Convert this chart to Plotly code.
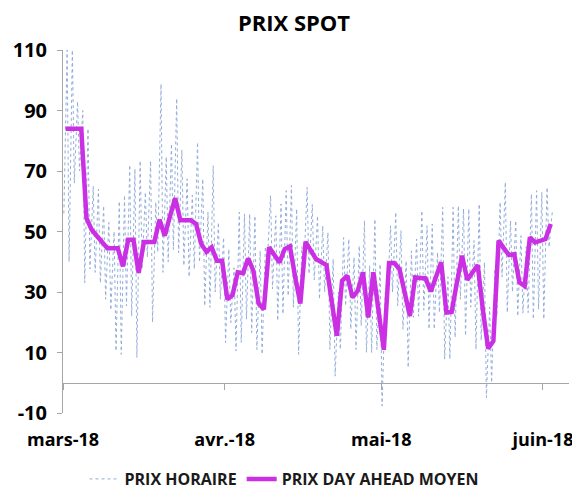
import pandas as pd
import plotly.graph_objects as go

# Day labels (one entry per day, Mar 1 2018 -> Jun 2 2018)
days = pd.date_range("2018-03-01", "2018-06-02", freq="D")

# Daily average day-ahead price (PRIX DAY AHEAD MOYEN), EUR/MWh
daily_avg = [
    # March
    84, 84, 84, 84, 54.4, 50.6, 48.5, 46.5, 44.5, 44.5, 44.5, 38.5, 47.3, 47.3, 36.3, 46.5,
    46.5, 46.5, 53.9, 48.6, 55, 61, 53.7, 53.7, 53.7, 52.5, 45.9, 43.3, 44.8, 40.3, 40.3,
    # April
    27.6, 29, 36.5, 36.2, 41.1, 37, 26.2, 24.3, 44.8, 42.4, 39.8, 44.2, 45.1, 35, 26.2,
    46.6, 43.5, 40.9, 39.9, 38.9, 27, 15.5, 33.7, 35.4, 28.2, 30.4, 36.5, 21.6, 36.5, 24,
    # May
    10.9, 39.6, 39.6, 37.6, 30, 22.1, 34.8, 34.6, 34.5, 30.2, 35, 39.8, 23.2, 23.4, 33,
    42, 34, 36.5, 38.9, 24, 11.3, 13.8, 47, 44.5, 42.2, 42.5, 33.2, 32, 48.1, 46.4, 46.9,
    # June
    47.5, 52.5,
]

# Hourly price range per day (PRIX HORAIRE): daily low and daily high
hourly_min = [
    56, 40, 66, 70, 33, 37.6, 36.5, 33, 27.6, 24, 10.5, 9.4, 25.4, 22, 8.3, 37.6,
    41.5, 20, 43.2, 36.5, 40, 44, 43, 38.7, 35, 37.6, 39.8, 25.4, 24.9, 30, 27.6,
    13.3, 19.9, 10.5, 13.3, 21, 16.6, 11, 9.4, 39.8, 31, 20.5, 22.7, 28.7, 25, 9.4,
    37.6, 36, 34, 27.6, 30, 11, 2.2, 11, 25.4, 17.7, 11, 18.8, 10, 10, 11,
    -7.7, 27, 30, 25.4, 17.7, 5, 21.6, 22, 24, 17.7, 17.7, 23.2, 7.8, 7.8, 15,
    27.6, 15.5, 25, 11, 14, -4.9, 0, 22, 35, 23.2, 30, 22, 23, 23.2, 21, 24.3,
    21, 44.8,
]
hourly_max = [
    110, 110, 93, 90, 84, 65, 64, 58.5, 53, 50, 60, 62, 72, 70.7, 73.4, 63,
    73.4, 59.7, 98.8, 74.7, 79, 94, 77, 67.4, 62, 79.5, 67.4, 56.4, 71.8, 53, 48,
    44.2, 38, 56.4, 55.8, 55.8, 55.2, 43.6, 45, 61.9, 55.2, 59.1, 63.5, 65.2, 57.5, 45,
    64.6, 59, 55.2, 51.9, 49.7, 40.9, 30, 48, 47.5, 41.5, 45.3, 53.6, 38.7, 54.1, 39.2,
    30, 51.9, 56.4, 50.3, 40.3, 43.6, 47.5, 56.9, 51.9, 52.5, 43.1, 58, 35, 58, 58.5,
    57.5, 57.5, 47, 59.1, 39.8, 25, 37.6, 59.7, 66.3, 53.6, 53.6, 48.6, 45, 62.4, 63.5, 63,
    64.6, 56.4,
]

# Axis ticks
y_ticks = [-10, 10, 30, 50, 70, 90, 110]
x_ticks = ["2018-03-01", "2018-04-01", "2018-05-01", "2018-06-01"]
x_tick_labels = ["mars-18", "avr.-18", "mai-18", "juin-18"]

# Build hourly series: low in the night, high in the evening
hx, hy = [], []
for d, lo, hi in zip(days, hourly_min, hourly_max):
    hx += [d + pd.Timedelta(hours=4), d + pd.Timedelta(hours=19)]
    hy += [lo, hi]
avg_x = [d + pd.Timedelta(hours=12) for d in days]

FONT = "Open Sans, Liberation Sans, sans-serif"
AXIS_GRAY = "#A6A6A6"

# The page body has an 8px margin; the figure is sized so that it fills the window.
W, H = 572, 482

fig = go.Figure()
fig.add_trace(go.Scatter(
    x=hx, y=hy, mode="lines", name="<b>PRIX HORAIRE</b>",
    line=dict(color="#93ACDA", width=1, dash="dot"),
))
fig.add_trace(go.Scatter(
    x=avg_x, y=daily_avg, mode="lines", name="<b>PRIX DAY AHEAD MOYEN</b>",
    line=dict(color="#CB2FE3", width=4.5),
))
# carrier for the horizontal axis drawn at y = 0
fig.add_trace(go.Scatter(
    x=[avg_x[0]], y=[None], xaxis="x2", mode="lines", showlegend=False, hoverinfo="skip",
))

fig.update_layout(
    width=W, height=H,
    paper_bgcolor="white", plot_bgcolor="white",
    margin=dict(l=55, r=11, t=42, b=77, autoexpand=False),
    title=dict(text="<b>PRIX SPOT</b>", x=0.5, xanchor="center", y=1 - 15 / H,
               yref="container", yanchor="middle",
               font=dict(family=FONT, size=22, color="black")),
    font=dict(family=FONT, color="black"),
    showlegend=True,
    legend=dict(orientation="h", xref="container", x=276 / W, xanchor="center",
                yref="container", y=(H - 471) / H, yanchor="middle",
                font=dict(family=FONT, size=16, color="#1a1a1a"),
                itemwidth=30, tracegroupgap=0),
    xaxis=dict(
        type="date", range=["2018-03-01", "2018-06-06"],
        tickvals=x_ticks, ticktext=[f"<b>{t}</b>" for t in x_tick_labels],
        ticks="", showline=False, showgrid=False, zeroline=False,
        tickfont=dict(family=FONT, size=18, color="black"),
        ticklabelstandoff=14,
    ),
    xaxis2=dict(
        type="date", matches="x", overlaying="x", anchor="free", position=10 / 120,
        tickvals=x_ticks, showticklabels=False, ticks="outside", ticklen=6,
        tickcolor=AXIS_GRAY, showline=True, linecolor=AXIS_GRAY, linewidth=1,
        showgrid=False, zeroline=False,
    ),
    yaxis=dict(
        range=[-10, 110], tickvals=y_ticks, ticktext=[f"<b>{v}</b>" for v in y_ticks],
        showline=True, linecolor=AXIS_GRAY, linewidth=1,
        ticks="outside", ticklen=5, tickcolor=AXIS_GRAY,
        showgrid=False, zeroline=False,
        tickfont=dict(family=FONT, size=20, color="black"),
        ticklabelstandoff=6,
    ),
)

fig.write_html("out.html")
